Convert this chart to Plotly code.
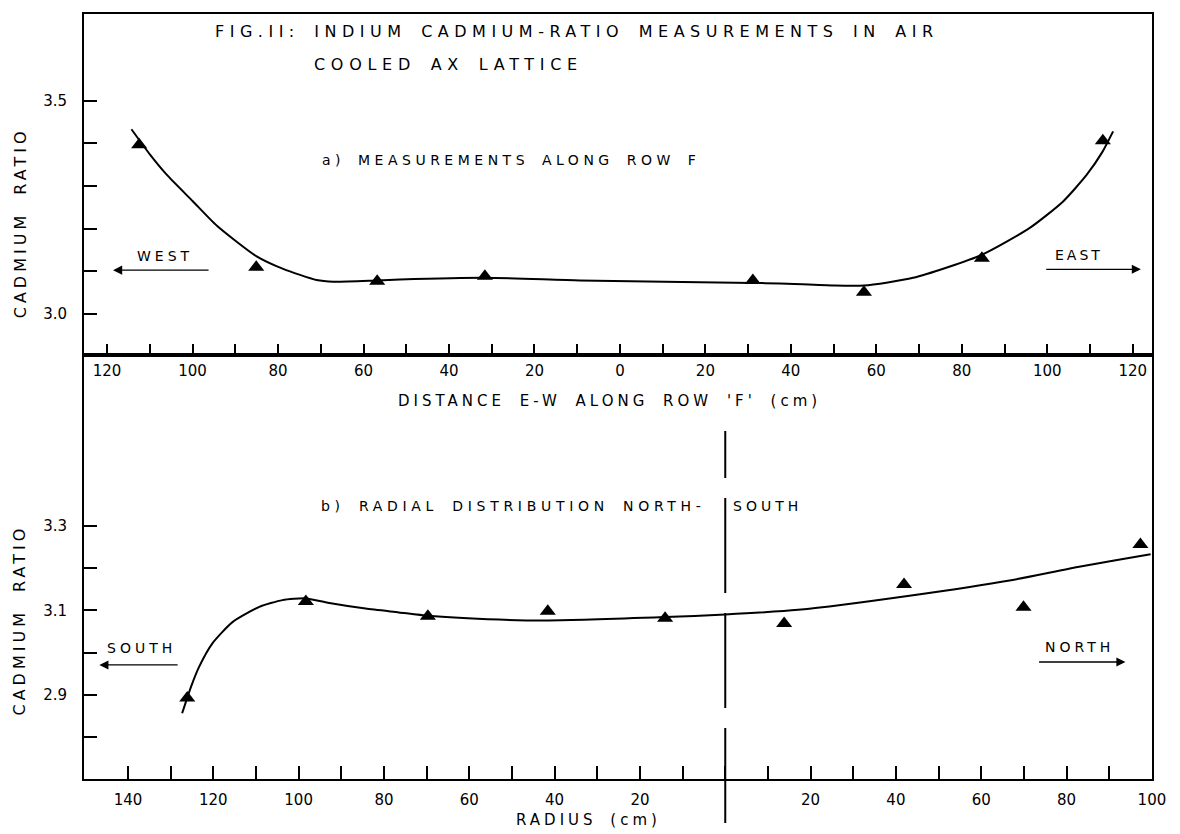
import plotly.graph_objects as go

# ---------------- data ----------------
# a) measurements along row F  (negative = west, positive = east)
row_f_x = [-112.5, -85.1, -56.8, -31.6, 31.1, 57.1, 84.7, 113.0]
row_f_y = [3.397, 3.110, 3.077, 3.089, 3.079, 3.051, 3.131, 3.406]

row_f_curve_x = [-114.3, -109.9, -106.0, -100.0, -94.3, -85.1, -78.8, -71.0, -67.0,
                 -56.9, -51.5, -31.6, -9.4, 31.1, 37.4, 50.0, 57.1, 68.6, 84.7, 95.9,
                 103.7, 109.2, 112.9, 115.4]
row_f_curve_y = [3.433, 3.373, 3.326, 3.265, 3.207, 3.136, 3.106, 3.080, 3.076,
                 3.079, 3.081, 3.085, 3.079, 3.073, 3.072, 3.067, 3.067, 3.085, 3.139, 3.202,
                 3.264, 3.326, 3.380, 3.428]

# b) radial distribution north-south (negative = south, positive = north)
radial_x = [-126.1, -98.3, -69.7, -41.6, -14.1, 13.8, 41.9, 69.9, 97.3]
radial_y = [2.893, 3.121, 3.086, 3.098, 3.081, 3.069, 3.161, 3.107, 3.255]

radial_curve_x = [-127.3, -125.2, -123.3, -120.2, -115.5, -109.2, -103.8, -98.3,
                  -92.1, -84.3, -76.5, -69.7, -53.1, -41.4, -14.1, 0.0, 17.1,
                  43.6, 67.0, 82.6, 99.7]
radial_curve_y = [2.857, 2.920, 2.967, 3.022, 3.072, 3.108, 3.124, 3.128,
                  3.116, 3.104, 3.095, 3.087, 3.078, 3.076, 3.084, 3.090, 3.101,
                  3.135, 3.171, 3.202, 3.232]

# tick values / labels
top_x_ticks = list(range(-120, 121, 10))
top_x_labels = [str(abs(v)) if v % 20 == 0 else "" for v in top_x_ticks]
top_y_ticks = [3.0, 3.1, 3.2, 3.3, 3.4, 3.5]
top_y_labels = ["3.0", "", "", "", "", "3.5"]

bot_x_ticks = list(range(-140, 101, 10))
bot_x_labels = [str(abs(v)) if (v % 20 == 0 and v != 0) else "" for v in bot_x_ticks]
bot_y_ticks = [2.8, 2.9, 3.0, 3.1, 3.2, 3.3]
bot_y_labels = ["", "2.9", "", "3.1", "", "3.3"]

FONT = "DejaVu Sans"


def sp(text, ls=4, ws=4):
    return f'<span style="letter-spacing:{ls}px;word-spacing:{ws}px">{text}</span>'


fig = go.Figure()

fig.add_trace(go.Scatter(x=row_f_curve_x, y=row_f_curve_y, mode="lines",
                         line=dict(color="black", width=2, shape="spline", smoothing=0.6),
                         xaxis="x", yaxis="y", showlegend=False, hoverinfo="skip"))
fig.add_trace(go.Scatter(x=row_f_x, y=row_f_y, mode="markers",
                         marker=dict(symbol="triangle-up", size=14, color="black"),
                         xaxis="x", yaxis="y", showlegend=False))
fig.add_trace(go.Scatter(x=radial_curve_x, y=radial_curve_y, mode="lines",
                         line=dict(color="black", width=2, shape="spline", smoothing=0.6),
                         xaxis="x2", yaxis="y2", showlegend=False, hoverinfo="skip"))
fig.add_trace(go.Scatter(x=radial_x, y=radial_y, mode="markers",
                         marker=dict(symbol="triangle-up", size=14, color="black"),
                         xaxis="x2", yaxis="y2", showlegend=False))

# plot area in pixels: x 84..1152, y 12..779
split = (779 - 354) / 767.0

axis_common = dict(showline=True, linecolor="black", linewidth=2, mirror=True,
                   showgrid=False, zeroline=False, ticks="inside", tickcolor="black",
                   tickwidth=2, tickfont=dict(family=FONT, size=15, color="black"))

fig.update_layout(
    width=1180, height=834,
    margin=dict(l=84, r=28, t=12, b=55),
    paper_bgcolor="white", plot_bgcolor="white",
    font=dict(family=FONT, color="black"),
    xaxis=dict(axis_common, domain=[0, 1], anchor="y", range=[-125.4, 124.5],
               tickmode="array", tickvals=top_x_ticks, ticktext=top_x_labels,
               ticklen=11, ticklabelstandoff=1),
    yaxis=dict(axis_common, domain=[split, 1], anchor="x", range=[2.904, 3.703],
               tickmode="array", tickvals=top_y_ticks, ticktext=top_y_labels,
               ticklen=13, ticklabelstandoff=12),
    xaxis2=dict(axis_common, domain=[0, 1], anchor="y2", range=[-150.3, 100.02],
                tickmode="array", tickvals=bot_x_ticks, ticktext=bot_x_labels,
                ticklen=13, ticklabelstandoff=6),
    yaxis2=dict(axis_common, domain=[0, split], anchor="x2", range=[2.702, 3.702],
                tickmode="array", tickvals=bot_y_ticks, ticktext=bot_y_labels,
                ticklen=13, ticklabelstandoff=12),
)

# vertical dashed centre line in panel b
fig.add_shape(type="line", xref="x2", yref="paper", x0=0, x1=0,
              y0=(779 - 823) / 767.0, y1=(779 - 430) / 767.0,
              line=dict(color="black", width=2, dash="95px,20px"))

ann = []
# titles
ann.append(dict(xref="x", yref="y", x=-95.2, y=3.661, xanchor="left", yanchor="middle",
                text=sp("FIG.II: INDIUM CADMIUM-RATIO MEASUREMENTS IN AIR", 5.5, 4),
                font=dict(size=16)))
ann.append(dict(xref="x", yref="y", x=-72.0, y=3.584, xanchor="left", yanchor="middle",
                text=sp("COOLED AX LATTICE", 5.7, 4), font=dict(size=16)))
ann.append(dict(xref="x", yref="y", x=-70.2, y=3.362, xanchor="left", yanchor="middle",
                text=sp("a) MEASUREMENTS ALONG ROW F", 4.5, 4), font=dict(size=14)))
ann.append(dict(xref="x", yref="y", x=-106.4, y=3.135, xanchor="center", yanchor="middle",
                text=sp("WEST", 4, 0), font=dict(size=14)))
ann.append(dict(xref="x", yref="y", x=107.4, y=3.138, xanchor="center", yanchor="middle",
                text=sp("EAST", 3, 0), font=dict(size=14)))
# panel b labels
ann.append(dict(xref="x2", yref="y2", x=-95.2, y=3.347, xanchor="left", yanchor="middle",
                text=sp("b) RADIAL DISTRIBUTION NORTH-", 4.7, 5), font=dict(size=14)))
ann.append(dict(xref="x2", yref="y2", x=1.4, y=3.347, xanchor="left", yanchor="middle",
                text=sp("SOUTH", 4, 0), font=dict(size=14)))
ann.append(dict(xref="x2", yref="y2", x=-136.8, y=3.011, xanchor="center", yanchor="middle",
                text=sp("SOUTH", 4, 0), font=dict(size=14)))
ann.append(dict(xref="x2", yref="y2", x=83.0, y=3.013, xanchor="center", yanchor="middle",
                text=sp("NORTH", 4, 0), font=dict(size=14)))
# axis titles
ann.append(dict(xref="x", yref="paper", x=-2.5, y=(779 - 400) / 767.0, xanchor="center",
                yanchor="middle", text=sp("DISTANCE E-W ALONG ROW 'F' (cm)", 4, 6),
                font=dict(size=15)))
ann.append(dict(xref="x2", yref="paper", x=-32.0, y=(779 - 820) / 767.0, xanchor="center",
                yanchor="middle", text=sp("RADIUS (cm)", 4, 5), font=dict(size=15)))
ann.append(dict(xref="paper", yref="y", x=-0.06, y=3.215, xanchor="center",
                yanchor="middle", textangle=-90, text=sp("CADMIUM RATIO", 4, 8),
                font=dict(size=16)))
ann.append(dict(xref="paper", yref="y2", x=-0.06, y=3.078, xanchor="center",
                yanchor="middle", textangle=-90, text=sp("CADMIUM RATIO", 4, 8),
                font=dict(size=16)))

for a in ann:
    a["showarrow"] = False
    a["font"] = dict(family=FONT, color="black", **a["font"])
    fig.add_annotation(**a)

# arrows
arrow = dict(showarrow=True, text="", arrowhead=2, arrowsize=1.4, arrowwidth=1.3,
             arrowcolor="black", standoff=0, startstandoff=0)
arrows = [
    dict(xref="x", yref="y", axref="x", ayref="y", x=-118.6, y=3.103, ax=-95.9, ay=3.103),
    dict(xref="x", yref="y", axref="x", ayref="y", x=121.9, y=3.105, ax=99.4, ay=3.105),
    dict(xref="x2", yref="y2", axref="x2", ayref="y2", x=-146.7, y=2.971, ax=-128.0, ay=2.971),
    dict(xref="x2", yref="y2", axref="x2", ayref="y2", x=93.8, y=2.978, ax=73.2, ay=2.978),
]
for a in arrows:
    fig.add_annotation(**arrow, **a)

fig.write_html("out.html")
